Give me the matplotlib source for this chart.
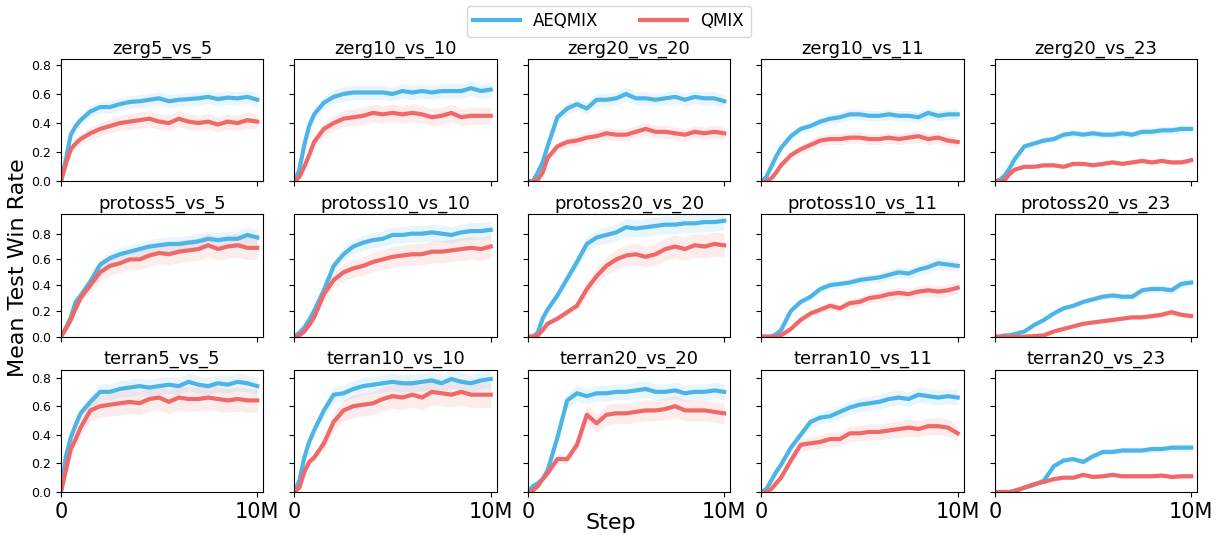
import numpy as np
import matplotlib
matplotlib.use('Agg')
import matplotlib.pyplot as plt

# training steps (millions) at which the curves were read
steps = [0, 0.25, 0.5, 0.75, 1, 1.5, 2, 2.5, 3, 3.5, 4, 4.5, 5, 5.5,
         6, 6.5, 7, 7.5, 8, 8.5, 9, 9.5, 10]

maps = [
    ['zerg5_vs_5', 'zerg10_vs_10', 'zerg20_vs_20', 'zerg10_vs_11', 'zerg20_vs_23'],
    ['protoss5_vs_5', 'protoss10_vs_10', 'protoss20_vs_20', 'protoss10_vs_11', 'protoss20_vs_23'],
    ['terran5_vs_5', 'terran10_vs_10', 'terran20_vs_20', 'terran10_vs_11', 'terran20_vs_23'],
]

aeqmix = {
    'zerg5_vs_5': [0, 0.15, 0.32, 0.38, 0.42, 0.48, 0.51, 0.51, 0.53, 0.545, 0.55, 0.56, 0.57, 0.55, 0.56, 0.565, 0.57, 0.58, 0.565, 0.575, 0.57, 0.58, 0.56],
    'zerg10_vs_10': [0, 0.08, 0.25, 0.38, 0.46, 0.54, 0.58, 0.60, 0.61, 0.61, 0.61, 0.61, 0.60, 0.62, 0.61, 0.62, 0.61, 0.62, 0.62, 0.62, 0.64, 0.62, 0.63],
    'zerg20_vs_20': [0, 0.0, 0.06, 0.13, 0.24, 0.44, 0.50, 0.53, 0.50, 0.56, 0.56, 0.57, 0.60, 0.57, 0.57, 0.56, 0.57, 0.58, 0.56, 0.58, 0.57, 0.57, 0.55],
    'zerg10_vs_11': [0, 0.03, 0.10, 0.17, 0.23, 0.31, 0.36, 0.38, 0.41, 0.43, 0.44, 0.46, 0.46, 0.45, 0.45, 0.46, 0.45, 0.45, 0.44, 0.47, 0.45, 0.46, 0.46],
    'zerg20_vs_23': [0, 0.01, 0.04, 0.09, 0.15, 0.24, 0.26, 0.28, 0.29, 0.32, 0.33, 0.32, 0.33, 0.32, 0.32, 0.33, 0.32, 0.34, 0.34, 0.35, 0.35, 0.36, 0.36],
    'protoss5_vs_5': [0, 0.07, 0.15, 0.27, 0.32, 0.43, 0.56, 0.61, 0.64, 0.66, 0.68, 0.70, 0.71, 0.72, 0.72, 0.73, 0.74, 0.76, 0.75, 0.76, 0.76, 0.79, 0.77],
    'protoss10_vs_10': [0, 0.03, 0.07, 0.13, 0.20, 0.36, 0.55, 0.64, 0.70, 0.73, 0.75, 0.76, 0.79, 0.79, 0.80, 0.80, 0.81, 0.80, 0.79, 0.81, 0.82, 0.82, 0.83],
    'protoss20_vs_20': [0, 0.0, 0.03, 0.14, 0.21, 0.32, 0.45, 0.58, 0.72, 0.77, 0.79, 0.81, 0.85, 0.84, 0.85, 0.86, 0.87, 0.87, 0.88, 0.88, 0.89, 0.89, 0.90],
    'protoss10_vs_11': [0, 0, 0.0, 0.02, 0.05, 0.20, 0.27, 0.31, 0.37, 0.40, 0.41, 0.42, 0.44, 0.45, 0.46, 0.48, 0.50, 0.49, 0.52, 0.54, 0.57, 0.56, 0.55],
    'protoss20_vs_23': [0, 0, 0.01, 0.01, 0.02, 0.04, 0.09, 0.13, 0.18, 0.22, 0.24, 0.27, 0.29, 0.31, 0.32, 0.31, 0.31, 0.36, 0.37, 0.37, 0.36, 0.41, 0.42],
    'terran5_vs_5': [0, 0.25, 0.38, 0.47, 0.55, 0.63, 0.70, 0.70, 0.72, 0.73, 0.74, 0.73, 0.74, 0.75, 0.74, 0.77, 0.75, 0.74, 0.76, 0.75, 0.77, 0.76, 0.74],
    'terran10_vs_10': [0, 0.08, 0.24, 0.35, 0.43, 0.57, 0.68, 0.69, 0.72, 0.74, 0.75, 0.76, 0.77, 0.76, 0.76, 0.77, 0.78, 0.76, 0.79, 0.77, 0.76, 0.78, 0.79],
    'terran20_vs_20': [0, 0.04, 0.06, 0.09, 0.15, 0.38, 0.64, 0.69, 0.67, 0.69, 0.69, 0.70, 0.70, 0.71, 0.72, 0.70, 0.70, 0.71, 0.69, 0.70, 0.70, 0.71, 0.70],
    'terran10_vs_11': [0, 0.02, 0.08, 0.14, 0.19, 0.31, 0.40, 0.49, 0.52, 0.53, 0.56, 0.59, 0.61, 0.62, 0.63, 0.65, 0.66, 0.65, 0.68, 0.67, 0.66, 0.67, 0.66],
    'terran20_vs_23': [0, 0, 0, 0, 0.01, 0.03, 0.05, 0.08, 0.18, 0.22, 0.23, 0.21, 0.25, 0.28, 0.28, 0.29, 0.29, 0.29, 0.30, 0.30, 0.31, 0.31, 0.31],
}

qmix = {
    'zerg5_vs_5': [0, 0.12, 0.22, 0.26, 0.29, 0.33, 0.36, 0.38, 0.40, 0.41, 0.42, 0.43, 0.41, 0.40, 0.43, 0.41, 0.40, 0.41, 0.39, 0.41, 0.40, 0.42, 0.41],
    'zerg10_vs_10': [0, 0.03, 0.10, 0.18, 0.27, 0.36, 0.40, 0.43, 0.44, 0.45, 0.47, 0.46, 0.47, 0.46, 0.47, 0.46, 0.44, 0.45, 0.47, 0.44, 0.45, 0.45, 0.45],
    'zerg20_vs_20': [0, 0, 0.01, 0.06, 0.16, 0.24, 0.27, 0.28, 0.30, 0.31, 0.33, 0.32, 0.32, 0.34, 0.36, 0.34, 0.34, 0.33, 0.32, 0.34, 0.33, 0.34, 0.33],
    'zerg10_vs_11': [0, 0, 0.02, 0.06, 0.11, 0.18, 0.22, 0.25, 0.28, 0.29, 0.29, 0.30, 0.30, 0.29, 0.29, 0.30, 0.29, 0.30, 0.31, 0.29, 0.30, 0.28, 0.27],
    'zerg20_vs_23': [0, 0, 0.01, 0.05, 0.08, 0.10, 0.10, 0.11, 0.11, 0.10, 0.12, 0.12, 0.11, 0.12, 0.13, 0.12, 0.13, 0.14, 0.13, 0.14, 0.13, 0.13, 0.145],
    'protoss5_vs_5': [0, 0.06, 0.13, 0.22, 0.30, 0.40, 0.50, 0.55, 0.57, 0.60, 0.60, 0.63, 0.65, 0.64, 0.66, 0.67, 0.68, 0.71, 0.68, 0.70, 0.71, 0.69, 0.69],
    'protoss10_vs_10': [0, 0.01, 0.04, 0.09, 0.15, 0.33, 0.44, 0.50, 0.53, 0.55, 0.58, 0.60, 0.62, 0.63, 0.64, 0.64, 0.66, 0.66, 0.67, 0.68, 0.69, 0.68, 0.70],
    'protoss20_vs_20': [0, 0, 0.01, 0.05, 0.10, 0.14, 0.19, 0.24, 0.37, 0.47, 0.55, 0.60, 0.63, 0.64, 0.62, 0.64, 0.68, 0.70, 0.68, 0.71, 0.70, 0.72, 0.71],
    'protoss10_vs_11': [0, 0, 0, 0, 0.01, 0.06, 0.13, 0.18, 0.21, 0.24, 0.22, 0.26, 0.27, 0.30, 0.31, 0.33, 0.34, 0.33, 0.35, 0.36, 0.35, 0.36, 0.38],
    'protoss20_vs_23': [0, 0, 0, 0, 0, 0, 0.005, 0.01, 0.04, 0.06, 0.08, 0.10, 0.11, 0.12, 0.13, 0.14, 0.15, 0.15, 0.16, 0.17, 0.19, 0.17, 0.16],
    'terran5_vs_5': [0, 0.15, 0.30, 0.37, 0.45, 0.57, 0.60, 0.61, 0.62, 0.63, 0.62, 0.65, 0.66, 0.63, 0.66, 0.65, 0.65, 0.66, 0.65, 0.64, 0.65, 0.64, 0.64],
    'terran10_vs_10': [0, 0.03, 0.14, 0.21, 0.24, 0.34, 0.49, 0.57, 0.60, 0.61, 0.62, 0.65, 0.67, 0.66, 0.68, 0.66, 0.70, 0.69, 0.68, 0.70, 0.68, 0.68, 0.68],
    'terran20_vs_20': [0, 0.01, 0.04, 0.09, 0.13, 0.23, 0.23, 0.33, 0.54, 0.48, 0.54, 0.55, 0.55, 0.56, 0.57, 0.57, 0.58, 0.60, 0.57, 0.57, 0.57, 0.56, 0.55],
    'terran10_vs_11': [0, 0, 0.02, 0.06, 0.10, 0.22, 0.33, 0.34, 0.35, 0.37, 0.37, 0.41, 0.41, 0.42, 0.42, 0.43, 0.44, 0.45, 0.44, 0.46, 0.46, 0.45, 0.41],
    'terran20_vs_23': [0, 0, 0, 0, 0.005, 0.03, 0.055, 0.07, 0.09, 0.10, 0.10, 0.12, 0.105, 0.11, 0.12, 0.11, 0.11, 0.11, 0.11, 0.115, 0.105, 0.11, 0.11],
}

# relative spread of the shaded band around each mean
spread = {'AEQMIX': 0.08, 'QMIX': 0.13}
row_top = [0.84, 0.95, 0.855]

blue = '#4db4e7'
red = '#f06868'

fig, axs = plt.subplots(3, 5, figsize=(12.17, 5.35), dpi=100, sharex=True, sharey='row')
plt.subplots_adjust(left=0.0501, right=0.9836, top=0.8897, bottom=0.0804,
                    wspace=0.155, hspace=0.27)

x = np.array(steps) * 1e6
for r in range(3):
    for c in range(5):
        ax = axs[r, c]
        name = maps[r][c]
        for label, data, col in [('AEQMIX', aeqmix[name], blue), ('QMIX', qmix[name], red)]:
            y = np.array(data)
            ax.fill_between(x, y * (1 - spread[label]), y * (1 + spread[label]),
                            color=col, alpha=0.12, linewidth=0)
            ax.plot(x, y, color=col, lw=3, label=label)
        ax.set_title(name, fontsize=13, pad=4)
        ax.set_xlim(0, 10.3e6)
        ax.set_ylim(0, row_top[r])
        ax.set_yticks([0, 0.2, 0.4, 0.6, 0.8])
        ax.set_xticks([0, 1e7])
        ax.set_xticklabels(['0', '10M'])
        ax.tick_params(axis='y', labelsize=9)
        ax.tick_params(axis='x', labelsize=15)

handles, labels = axs[0, 0].get_legend_handles_labels()
fig.legend(handles, labels, loc='upper center', bbox_to_anchor=(0.5, 1.005), ncol=2,
           fontsize=12, handlelength=2.8, columnspacing=2.5, frameon=True)

fig.text(0.015, 0.5, 'Mean Test Win Rate', rotation=90, fontsize=16, va='center', ha='center')
fig.text(0.502, 0.022, 'Step', fontsize=16, ha='center', va='center')

plt.savefig('out.png', dpi=100)
